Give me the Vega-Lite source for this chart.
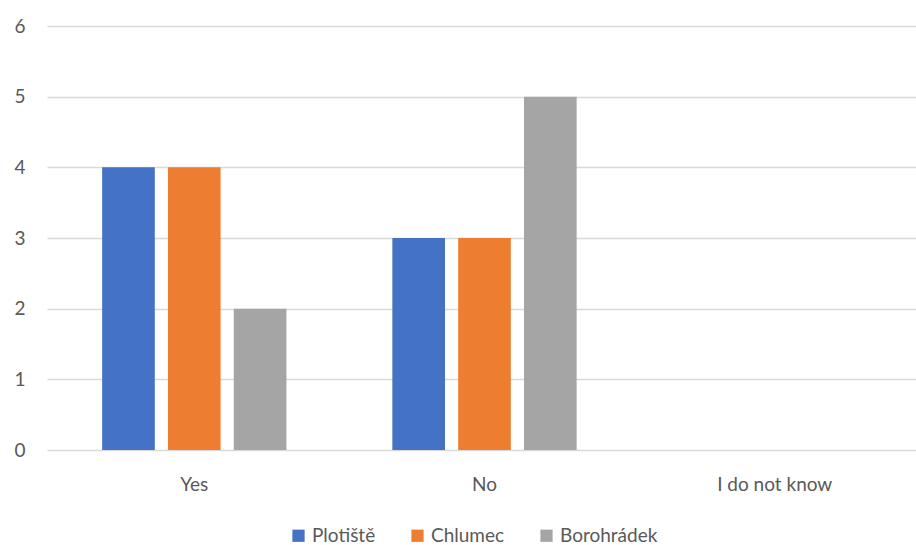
{
  "$schema": "https://vega.github.io/schema/vega-lite/v6.json",
  "autosize": "none",
  "width": 875,
  "height": 424,
  "padding": {"left": 47, "top": 26, "right": 0, "bottom": 95},
  "background": "white",
  "config": {
    "view": {"stroke": null},
    "font": "Lato",
    "axis": {"labelFont": "Lato", "labelColor": "#595959", "labelFontSize": 19, "ticks": false, "domain": false},
    "legend": {"labelFont": "Lato", "labelColor": "#595959", "labelFontSize": 19}
  },
  "data": {
    "values": [
      {"answer": "Yes", "town": "Plotiště", "count": 4},
      {"answer": "Yes", "town": "Chlumec", "count": 4},
      {"answer": "Yes", "town": "Borohrádek", "count": 2},
      {"answer": "No", "town": "Plotiště", "count": 3},
      {"answer": "No", "town": "Chlumec", "count": 3},
      {"answer": "No", "town": "Borohrádek", "count": 5},
      {"answer": "I do not know", "town": "Plotiště", "count": 0},
      {"answer": "I do not know", "town": "Chlumec", "count": 0},
      {"answer": "I do not know", "town": "Borohrádek", "count": 0}
    ]
  },
  "mark": {"type": "bar"},
  "encoding": {
    "x": {
      "field": "answer",
      "type": "nominal",
      "sort": ["Yes", "No", "I do not know"],
      "scale": {"paddingInner": 0.365, "paddingOuter": 0.19},
      "axis": {"title": null, "labelAngle": 0, "labelPadding": 25, "labelFontSize": 19, "grid": false}
    },
    "xOffset": {
      "field": "town",
      "type": "nominal",
      "sort": ["Plotiště", "Chlumec", "Borohrádek"],
      "scale": {"paddingInner": 0.2, "paddingOuter": 0}
    },
    "y": {
      "field": "count",
      "type": "quantitative",
      "scale": {"domain": [0, 6]},
      "axis": {
        "title": null,
        "values": [0, 1, 2, 3, 4, 5, 6],
        "grid": true,
        "gridColor": "#D9D9D9",
        "gridWidth": 1.5,
        "labelFontSize": 19,
        "labelPadding": 22
      }
    },
    "color": {
      "field": "town",
      "type": "nominal",
      "sort": ["Plotiště", "Chlumec", "Borohrádek"],
      "scale": {"range": ["#4472C4", "#ED7D31", "#A5A5A5"]},
      "legend": {
        "title": null,
        "orient": "none",
        "legendX": 242,
        "legendY": 500,
        "direction": "horizontal",
        "symbolType": "square",
        "symbolSize": 150,
        "symbolStrokeWidth": 0,
        "labelFontSize": 19,
        "labelOffset": 4,
        "columnPadding": 32
      }
    }
  }
}
